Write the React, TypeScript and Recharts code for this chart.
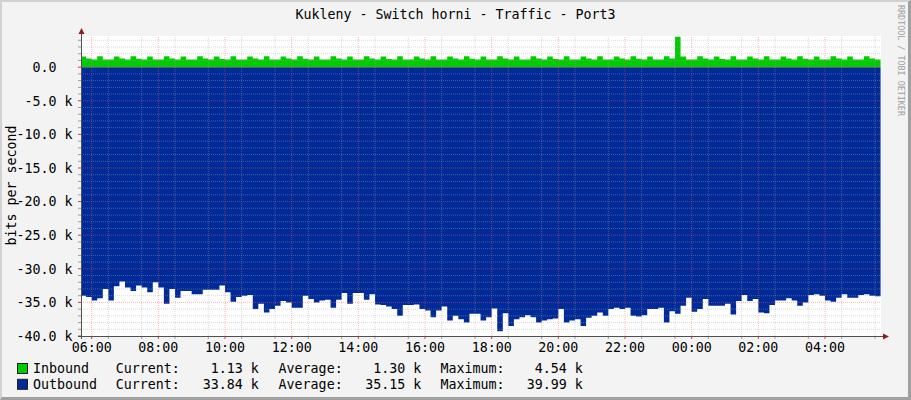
import React from 'react';
import { AreaChart, Area, XAxis, YAxis, ReferenceLine, CartesianGrid } from 'recharts';

// ---- data (values in k bits per second, 10-minute steps starting 05:40) ----
const startHour = -1 / 3; // hours relative to 06:00
const stepHours = 1 / 6;

const inbound = [
  1.60, 1.28, 1.13, 1.62, 1.13, 1.13, 1.58, 1.30, 1.13, 1.62, 1.25, 1.13,
  1.60, 1.13, 1.13, 1.64, 1.28, 1.13, 1.58, 1.13, 1.13, 1.62, 1.30, 1.13,
  1.60, 1.20, 1.13, 1.63, 1.13, 1.13, 1.58, 1.28, 1.13, 1.62, 1.13, 1.13,
  1.60, 1.30, 1.13, 1.62, 1.25, 1.13, 1.58, 1.13, 1.13, 1.64, 1.28, 1.13,
  1.60, 1.13, 1.13, 1.62, 1.30, 1.13, 1.58, 1.20, 1.13, 1.63, 1.13, 1.13,
  1.60, 1.28, 1.13, 1.62, 1.13, 1.13, 1.58, 1.30, 1.13, 1.62, 1.25, 1.13,
  1.60, 1.13, 1.13, 1.64, 1.28, 1.13, 1.58, 1.13, 1.13, 1.62, 1.30, 1.13,
  1.60, 1.20, 1.13, 1.63, 1.13, 1.13, 1.58, 1.28, 1.13, 1.62, 1.13, 1.13,
  1.60, 1.30, 1.13, 1.62, 1.25, 1.13, 1.58, 1.13, 1.13, 1.64, 1.28, 4.54,
  1.60, 1.13, 1.13, 1.62, 1.30, 1.13, 1.58, 1.20, 1.13, 1.63, 1.13, 1.13,
  1.60, 1.28, 1.13, 1.62, 1.13, 1.13, 1.58, 1.30, 1.13, 1.62, 1.25, 1.13,
  1.60, 1.13, 1.13, 1.64, 1.28, 1.13, 1.58, 1.13, 1.13, 1.62, 1.30, 1.13,
  1.13,
];

const outbound = [
  -34.0, -34.2, -34.7, -34.4, -33.0, -34.7, -32.6, -31.9, -32.8, -33.3, -32.5, -32.8,
  -33.5, -32.0, -32.8, -35.2, -33.0, -34.3, -33.3, -33.3, -33.8, -33.8, -33.1, -33.1,
  -33.1, -32.5, -33.5, -34.9, -34.2, -34.0, -33.9, -36.0, -35.2, -36.5, -36.0, -35.5,
  -34.8, -35.0, -35.8, -35.8, -34.0, -34.5, -35.0, -34.7, -34.6, -35.8, -34.6, -33.6,
  -35.2, -33.6, -33.6, -34.6, -33.8, -35.3, -35.4, -35.6, -36.0, -37.0, -35.4, -35.4,
  -35.3, -36.0, -36.2, -37.2, -36.2, -35.6, -37.7, -37.0, -37.5, -38.0, -36.7, -36.7,
  -37.7, -37.2, -35.9, -39.3, -36.6, -38.5, -37.5, -37.2, -36.9, -37.2, -38.0, -37.7,
  -37.5, -37.4, -36.0, -38.0, -37.7, -37.5, -38.5, -37.3, -37.0, -36.5, -37.0, -36.0,
  -35.8, -36.0, -35.8, -37.0, -37.1, -36.9, -36.0, -36.0, -35.8, -38.0, -36.3, -36.7,
  -35.5, -34.3, -36.4, -36.0, -34.5, -35.5, -35.5, -35.5, -35.2, -36.8, -34.8, -33.9,
  -34.8, -34.5, -36.5, -36.6, -35.4, -34.7, -34.7, -34.4, -34.7, -35.5, -35.0, -33.9,
  -33.8, -34.0, -34.7, -34.9, -34.3, -33.8, -34.3, -34.3, -33.9, -33.8, -34.0, -34.1,
  -33.84,
];

const hourTicks = [0, 2, 4, 6, 8, 10, 12, 14, 16, 18, 20, 22];
const hourLabels = ['06:00', '08:00', '10:00', '12:00', '14:00', '16:00', '18:00', '20:00', '22:00', '00:00', '02:00', '04:00'];
const halfHourTicks = [
  0.5, 1.5, 2.5, 3.5, 4.5, 5.5, 6.5, 7.5, 8.5, 9.5, 10.5, 11.5,
  12.5, 13.5, 14.5, 15.5, 16.5, 17.5, 18.5, 19.5, 20.5, 21.5, 22.5, 23.5,
];
const yMajorTicks = [0, -5, -10, -15, -20, -25, -30, -35, -40];
const yLabels = ['0.0', '-5.0 k', '-10.0 k', '-15.0 k', '-20.0 k', '-25.0 k', '-30.0 k', '-35.0 k', '-40.0 k'];
const yMinorTicks = [
  4, 3, 2, 1, -1, -2, -3, -4, -6, -7, -8, -9, -11, -12, -13, -14, -16, -17, -18, -19,
  -21, -22, -23, -24, -26, -27, -28, -29, -31, -32, -33, -34, -36, -37, -38, -39,
];

const legendRows = [
  { name: 'Inbound', color: '#00CC00', current: '1.13 k', average: '1.30 k', maximum: '4.54 k' },
  { name: 'Outbound', color: '#002A97', current: '33.84 k', average: '35.15 k', maximum: '39.99 k' },
];

const data = inbound.map((v, i) => ({
  t: startHour + i * stepHours,
  inbound: v,
  outbound: outbound[i],
}));

const FONT = "'DejaVu Sans Mono', monospace";
const FS = 13.3;
const MINOR = 'rgba(165,165,165,0.42)';
const MAJOR = 'rgba(255,90,90,0.45)';

const xAllTicks = [...hourTicks, ...halfHourTicks].sort((a, b) => a - b);
const yAllTicks = [...yMajorTicks, ...yMinorTicks].sort((a, b) => b - a);

const YTick = (props: any) => {
  const { x, y, payload } = props;
  const v = payload.value;
  const idx = yMajorTicks.indexOf(v);
  const major = idx >= 0;
  const label = major ? yLabels[idx] : '';
  const endX = label.endsWith('k') ? x - 8.5 : x - 24.5;
  return (
    <g>
      <line x1={x - 3} x2={x} y1={y} y2={y} stroke={major ? '#d04040' : '#a0a0a0'} strokeWidth={1} />
      {major && (
        <text x={endX} y={y} dy={4.8} textAnchor="end" fontFamily={FONT} fontSize={FS} fill="#000">
          {label}
        </text>
      )}
    </g>
  );
};

const XTick = (props: any) => {
  const { x, y, payload } = props;
  const v = payload.value;
  const idx = hourTicks.indexOf(v);
  const major = idx >= 0;
  return (
    <g>
      <line x1={x} x2={x} y1={y} y2={y + 3} stroke={major ? '#d04040' : '#a0a0a0'} strokeWidth={1} />
      {major && (
        <text x={x} y={y} dy={15.5} textAnchor="middle" fontFamily={FONT} fontSize={FS} fill="#000">
          {hourLabels[idx]}
        </text>
      )}
    </g>
  );
};

export default function App() {
  return (
    <div style={{ position: 'absolute', left: 0, top: 0, width: 911, height: 400, background: '#F3F3F3', overflow: 'hidden' }}>
      <div style={{ position: 'absolute', left: 0, top: 0 }}>
        <AreaChart width={911} height={400} data={data} margin={{ top: 36, right: 30, bottom: 0, left: 0 }}>
          <CartesianGrid horizontal={false} vertical={false} fill="#FFFFFF" stroke="none" />
          <XAxis
            dataKey="t"
            type="number"
            domain={[-0.32, 23.68]}
            allowDataOverflow
            ticks={xAllTicks}
            interval={0}
            height={64}
            axisLine={false}
            tickLine={false}
            tickSize={0}
            tickMargin={0}
            tick={<XTick />}
          />
          <YAxis
            type="number"
            domain={[-40, 4.64]}
            allowDataOverflow
            ticks={yAllTicks}
            interval={0}
            width={81}
            axisLine={false}
            tickLine={false}
            tickSize={0}
            tickMargin={0}
            tick={<YTick />}
          />
          <Area dataKey="inbound" type="stepAfter" fill="#00CC00" fillOpacity={1} stroke="none" baseValue={0} isAnimationActive={false} />
          <Area dataKey="outbound" type="stepAfter" fill="#002A97" fillOpacity={1} stroke="none" baseValue={0} isAnimationActive={false} />
          {yMinorTicks.map((v) => (
            <ReferenceLine key={'ym' + v} y={v} stroke={MINOR} strokeDasharray="1 1" />
          ))}
          {halfHourTicks.map((v) => (
            <ReferenceLine key={'xm' + v} x={v} stroke={MINOR} strokeDasharray="1 1" />
          ))}
          {yMajorTicks.filter((v) => v > -40).map((v) => (
            <ReferenceLine key={'yM' + v} y={v} stroke={MAJOR} strokeDasharray="1 1" />
          ))}
          {hourTicks.map((v) => (
            <ReferenceLine key={'xM' + v} x={v} stroke={MAJOR} strokeDasharray="1 1" />
          ))}
        </AreaChart>
      </div>
      <svg width={911} height={400} style={{ position: 'absolute', left: 0, top: 0, pointerEvents: 'none' }}>
        {/* axes */}
        <line x1={81.5} x2={81.5} y1={33} y2={339} stroke="#505050" strokeWidth={1} />
        <line x1={78} x2={884} y1={336.5} y2={336.5} stroke="#505050" strokeWidth={1} />
        <polygon points="81.5,28 78.5,34 84.5,34" fill="#8B1E1E" />
        <polygon points="889,336.5 883,333.5 883,339.5" fill="#8B1E1E" />
        {/* title */}
        <text x={455.5} y={19} textAnchor="middle" fontFamily={FONT} fontSize={FS} fill="#000">
          Kukleny - Switch horni - Traffic - Port3
        </text>
        {/* y title */}
        <text transform="translate(15.5,185.5) rotate(-90)" textAnchor="middle" fontFamily={FONT} fontSize={FS} fill="#000">
          bits per second
        </text>
        {/* watermark */}
        <text transform="translate(898,5) rotate(90)" fontFamily={FONT} fontSize={8.4} fill="#A0A0A0">
          RRDTOOL / TOBI OETIKER
        </text>
        {/* legend */}
        {legendRows.map((r, i) => {
          const base = 373.3 + i * 15.8;
          return (
            <g key={r.name} fontFamily={FONT} fontSize={FS} fill="#000">
              <rect x={17.5} y={base - 9.8} width={10} height={10} fill={r.color} stroke="#202020" strokeWidth={1} />
              <text x={33} y={base}>{r.name}</text>
              <text x={115.8} y={base}>Current:</text>
              <text x={258.8} y={base} textAnchor="end">{r.current}</text>
              <text x={278.6} y={base}>Average:</text>
              <text x={421.2} y={base} textAnchor="end">{r.average}</text>
              <text x={440.4} y={base}>Maximum:</text>
              <text x={582.8} y={base} textAnchor="end">{r.maximum}</text>
            </g>
          );
        })}
      </svg>
      <div
        style={{
          position: 'absolute',
          left: 0,
          top: 0,
          width: 911,
          height: 400,
          boxSizing: 'border-box',
          borderTop: '2px solid #D2D2D2',
          borderLeft: '2px solid #D2D2D2',
          borderRight: '3px solid #A0A0A0',
          borderBottom: '3px solid #A0A0A0',
          pointerEvents: 'none',
        }}
      />
    </div>
  );
}
